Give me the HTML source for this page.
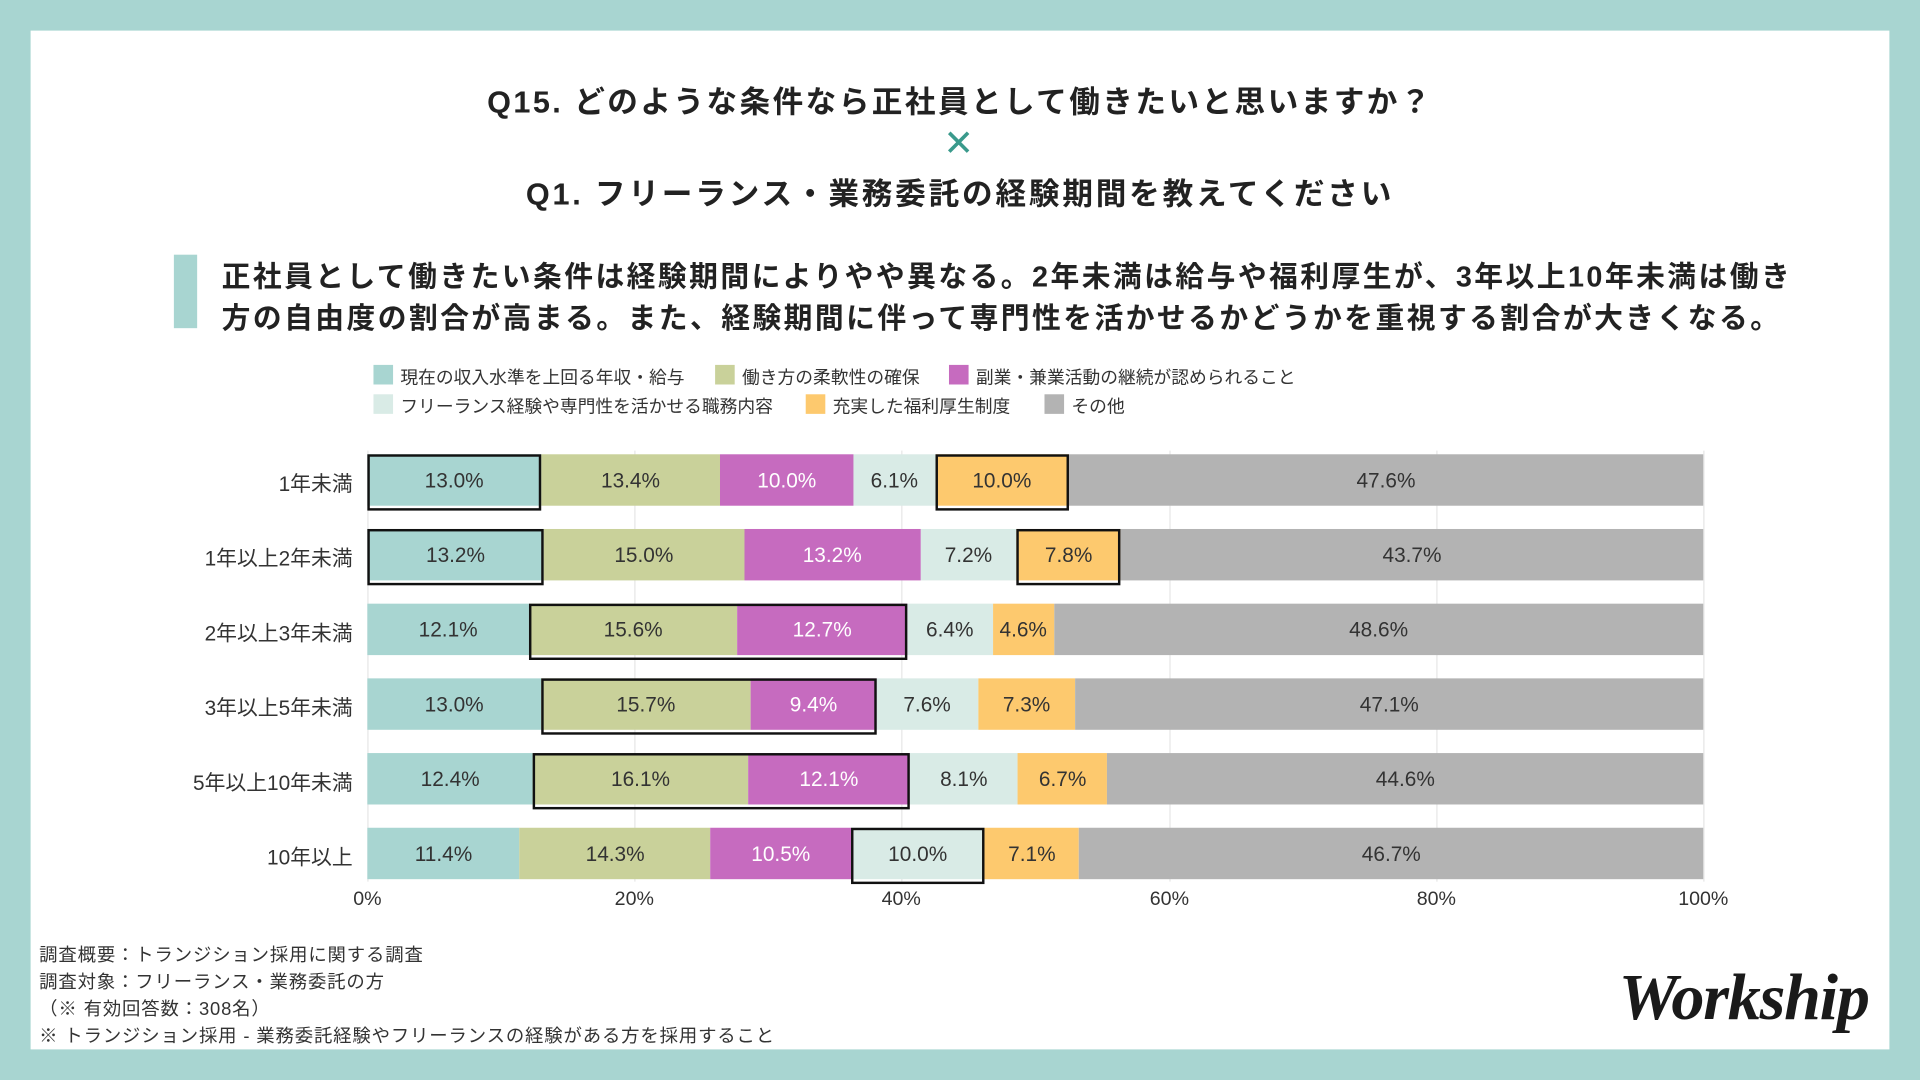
<!DOCTYPE html>
<html><head><meta charset="utf-8"><style>
html,body{margin:0;padding:0;width:1920px;height:1080px;overflow:hidden;background:#a8d5d1}
#s{position:absolute;left:0;top:0;width:1568px;height:882px;transform:scale(1.22449);transform-origin:0 0;font-family:"Liberation Sans","Noto Sans CJK JP",sans-serif;color:#222}
.a{position:absolute}
#panel{left:25px;top:25px;width:1518px;height:832px;background:#fff}
.t{left:0;width:1568px;text-align:center;font-weight:bold;font-size:25px;letter-spacing:2px}
.sum{left:181px;font-weight:bold;font-size:23.5px;white-space:nowrap;letter-spacing:2px}
.lg{font-size:14.5px;white-space:nowrap;color:#333}
.sw{position:absolute;width:16px;height:16px}
.row{position:absolute;left:300px;width:1091px;height:42px;display:flex}
.row div{height:42px;line-height:44px;text-align:center;font-size:17px;color:#333;white-space:nowrap}
.c1{background:#a8d5d1}.c2{background:#c9d19a}.c3{background:#c66bbf;color:#fff!important}.c4{background:#d9ebe6}.c5{background:#fdc96e}.c6{background:#b3b3b3}
.box{position:absolute;height:38px;border:2px solid #111}
.cat{position:absolute;right:1280px;font-size:17px;color:#333;white-space:nowrap;text-align:right}
.g{position:absolute;top:368px;width:1px;height:352px;background:#e6e6e6}
.ax{position:absolute;top:726px;font-size:16px;color:#333;width:60px;margin-left:-30px;text-align:center}
.ft{left:32px;font-size:15px;white-space:nowrap;color:#333;letter-spacing:0.7px}
</style></head><body><div id="s">
<div class="a" id="panel"></div>
<div class="a t" style="top:64px">Q15. どのような条件なら正社員として働きたいと思いますか？</div>
<div class="a t" style="top:100px;color:#3a9a8c;font-size:30px;font-weight:normal">✕</div>
<div class="a t" style="top:139px;letter-spacing:2.3px">Q1. フリーランス・業務委託の経験期間を教えてください</div>
<div class="a" style="left:142px;top:208px;width:19px;height:60px;background:#a8d5d1"></div>
<div class="a sum" style="top:207px">正社員として働きたい条件は経験期間によりやや異なる。2年未満は給与や福利厚生が、3年以上10年未満は働き</div>
<div class="a sum" style="top:241px">方の自由度の割合が高まる。また、経験期間に伴って専門性を活かせるかどうかを重視する割合が大きくなる。</div>

<div class="sw c1" style="left:305px;top:298px"></div><div class="a lg" style="left:327px;top:297px">現在の収入水準を上回る年収・給与</div>
<div class="sw c2" style="left:584px;top:298px"></div><div class="a lg" style="left:606px;top:297px">働き方の柔軟性の確保</div>
<div class="sw c3" style="left:775px;top:298px"></div><div class="a lg" style="left:797px;top:297px">副業・兼業活動の継続が認められること</div>
<div class="sw c4" style="left:305px;top:322px"></div><div class="a lg" style="left:327px;top:321px">フリーランス経験や専門性を活かせる職務内容</div>
<div class="sw c5" style="left:658px;top:322px"></div><div class="a lg" style="left:680px;top:321px">充実した福利厚生制度</div>
<div class="sw c6" style="left:853px;top:322px"></div><div class="a lg" style="left:875px;top:321px">その他</div>

<div class="g" style="left:300px"></div><div class="g" style="left:518px"></div><div class="g" style="left:736px"></div><div class="g" style="left:955px"></div><div class="g" style="left:1173px"></div><div class="g" style="left:1391px"></div>

<div class="row" style="top:371px"><div class="c1" style="width:13%">13.0%</div><div class="c2" style="width:13.4%">13.4%</div><div class="c3" style="width:10%">10.0%</div><div class="c4" style="width:6.1%">6.1%</div><div class="c5" style="width:10%">10.0%</div><div class="c6" style="flex:1">47.6%</div>
<div class="box" style="left:0;width:calc(13% - 4px);top:0"></div><div class="box" style="left:42.5%;width:calc(10% - 4px);top:0"></div></div>
<div class="row" style="top:432px"><div class="c1" style="width:13.2%">13.2%</div><div class="c2" style="width:15%">15.0%</div><div class="c3" style="width:13.2%">13.2%</div><div class="c4" style="width:7.2%">7.2%</div><div class="c5" style="width:7.8%">7.8%</div><div class="c6" style="flex:1">43.7%</div>
<div class="box" style="left:0;width:calc(13.2% - 4px);top:0"></div><div class="box" style="left:48.6%;width:calc(7.8% - 4px);top:0"></div></div>
<div class="row" style="top:493px"><div class="c1" style="width:12.1%">12.1%</div><div class="c2" style="width:15.6%">15.6%</div><div class="c3" style="width:12.7%">12.7%</div><div class="c4" style="width:6.4%">6.4%</div><div class="c5" style="width:4.6%">4.6%</div><div class="c6" style="flex:1">48.6%</div>
<div class="box" style="left:12.1%;width:calc(28.3% - 4px);top:0"></div></div>
<div class="row" style="top:554px"><div class="c1" style="width:13%">13.0%</div><div class="c2" style="width:15.7%">15.7%</div><div class="c3" style="width:9.4%">9.4%</div><div class="c4" style="width:7.6%">7.6%</div><div class="c5" style="width:7.3%">7.3%</div><div class="c6" style="flex:1">47.1%</div>
<div class="box" style="left:13%;width:calc(25.1% - 4px);top:0"></div></div>
<div class="row" style="top:615px"><div class="c1" style="width:12.4%">12.4%</div><div class="c2" style="width:16.1%">16.1%</div><div class="c3" style="width:12.1%">12.1%</div><div class="c4" style="width:8.1%">8.1%</div><div class="c5" style="width:6.7%">6.7%</div><div class="c6" style="flex:1">44.6%</div>
<div class="box" style="left:12.4%;width:calc(28.2% - 4px);top:0"></div></div>
<div class="row" style="top:676px"><div class="c1" style="width:11.4%">11.4%</div><div class="c2" style="width:14.3%">14.3%</div><div class="c3" style="width:10.5%">10.5%</div><div class="c4" style="width:10%">10.0%</div><div class="c5" style="width:7.1%">7.1%</div><div class="c6" style="flex:1">46.7%</div>
<div class="box" style="left:36.2%;width:calc(10% - 4px);top:0"></div></div>

<div class="cat" style="top:381px">1年未満</div>
<div class="cat" style="top:442px">1年以上2年未満</div>
<div class="cat" style="top:503px">2年以上3年未満</div>
<div class="cat" style="top:564px">3年以上5年未満</div>
<div class="cat" style="top:625px">5年以上10年未満</div>
<div class="cat" style="top:686px">10年以上</div>

<div class="ax" style="left:300px">0%</div><div class="ax" style="left:518px">20%</div><div class="ax" style="left:736px">40%</div><div class="ax" style="left:955px">60%</div><div class="ax" style="left:1173px">80%</div><div class="ax" style="left:1391px">100%</div>

<div class="a ft" style="top:769px">調査概要：トランジション採用に関する調査</div>
<div class="a ft" style="top:791px">調査対象：フリーランス・業務委託の方</div>
<div class="a ft" style="top:813px">（※ 有効回答数：308名）</div>
<div class="a ft" style="top:835px">※ トランジション採用 - 業務委託経験やフリーランスの経験がある方を採用すること</div>
<div class="a" style="left:1322px;top:783px;font-family:'Liberation Serif',serif;font-style:italic;font-weight:bold;font-size:54px;color:#1a1a1a;letter-spacing:-1px">Workship</div>
</div></body></html>
